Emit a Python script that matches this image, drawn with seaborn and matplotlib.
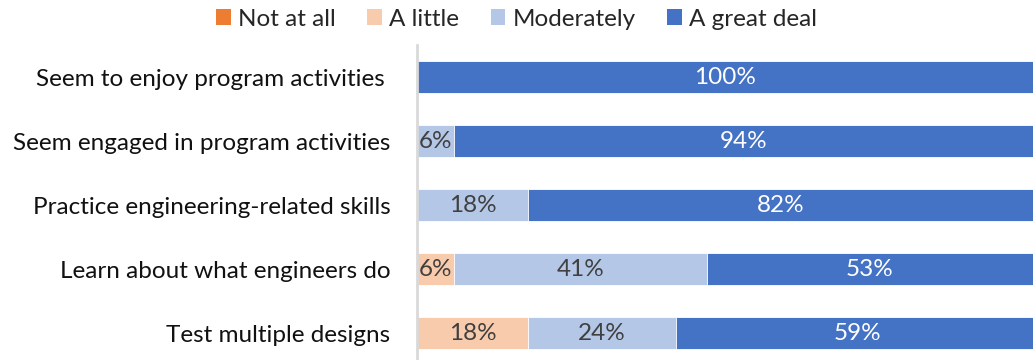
import matplotlib
matplotlib.use("Agg")
import matplotlib.pyplot as plt
import seaborn as sns
import pandas as pd
import numpy as np
from matplotlib.patches import Patch

categories = [
    "Seem to enjoy program activities ",
    "Seem engaged in program activities",
    "Practice engineering-related skills",
    "Learn about what engineers do",
    "Test multiple designs",
]
levels = ["Not at all", "A little", "Moderately", "A great deal"]
not_at_all = [0, 0, 0, 0, 0]
a_little = [0, 0, 0, 6, 18]
moderately = [0, 6, 18, 41, 24]
great_deal = [100, 94, 82, 53, 59]

colors = ["#ED7D31", "#F8CBAD", "#B4C7E7", "#4472C4"]
text_colors = ["#404040", "#404040", "#404040", "white"]
FS = 17.5

sns.set_theme(style="white")
plt.rcParams["font.family"] = ["Lato", "DejaVu Sans"]

df = pd.DataFrame({"category": categories, "Not at all": not_at_all,
                   "A little": a_little, "Moderately": moderately,
                   "A great deal": great_deal})
cum = df[levels].cumsum(axis=1)

fig = plt.figure(figsize=(10.33, 3.6), dpi=100)
ax = fig.add_axes([417 / 1033, 0, 616 / 1033, 315 / 360])

# stacked bars: draw cumulative totals from the outermost level inwards
for lvl, col in reversed(list(zip(levels, colors))):
    sns.barplot(data=cum.assign(category=categories), x=lvl, y="category",
                color=col, orient="h", width=0.5, ax=ax,
                edgecolor="white", linewidth=0.6, saturation=1)

for j, (lvl, tc) in enumerate(zip(levels, text_colors)):
    vals = df[lvl].to_numpy(dtype=float)
    starts = (cum[lvl] - df[lvl]).to_numpy(dtype=float)
    for i, v in enumerate(vals):
        if v > 0:
            ax.text(starts[i] + v / 2, i, f"{v:.0f}%", ha="center",
                    va="center", color=tc, fontsize=FS, zorder=10)

ax.set_xlim(0, 100)
ax.set_ylim(-0.5 + 315 / 64, -0.5)
ax.set_xlabel("")
ax.set_ylabel("")
ax.set_xticks([])
ax.set_yticks(range(len(categories)))
ax.set_yticklabels(categories, fontsize=FS, color="#111111")
ax.tick_params(axis="y", length=0, pad=19)
for s in ["top", "right", "bottom"]:
    ax.spines[s].set_visible(False)
ax.spines["left"].set_color("#D9D9D9")
ax.spines["left"].set_linewidth(2)
ax.spines["left"].set_zorder(5)

handles = [Patch(facecolor=c, edgecolor="none") for c in colors]
fig.legend(handles, levels, loc="center", bbox_to_anchor=(0.5, 1 - 19 / 360),
           ncol=4, frameon=False, fontsize=FS, handlelength=0.6,
           handleheight=0.6, handletextpad=0.3, columnspacing=1.3)

fig.savefig("out.png", dpi=100)
